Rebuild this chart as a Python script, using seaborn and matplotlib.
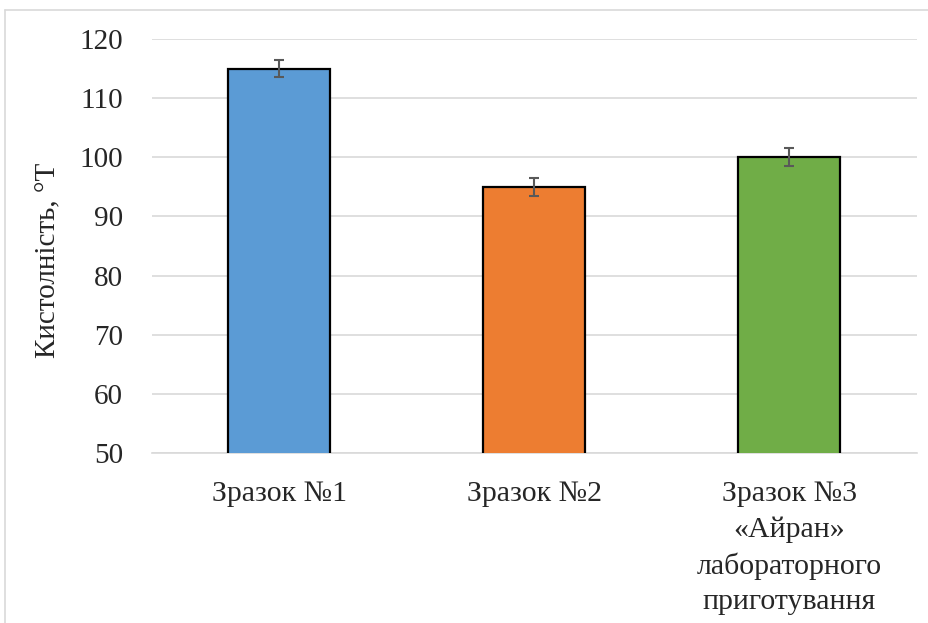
import matplotlib
matplotlib.use("Agg")
import matplotlib.pyplot as plt
import seaborn as sns
import pandas as pd
from matplotlib.lines import Line2D

categories = ["Зразок №1", "Зразок №2", "Зразок №3\n«Айран»\nлабораторного\nприготування"]
values = [115, 95, 100]
errors = [1.4, 1.5, 1.5]
colors = ["#5B9BD5", "#ED7D31", "#70AD47"]
yticks = [50, 60, 70, 80, 90, 100, 110, 120]

sns.set_style("white")
plt.rcParams["font.family"] = ["Liberation Serif", "DejaVu Serif"]

df = pd.DataFrame({"cat": categories, "val": values})

fig = plt.figure(figsize=(9.29, 6.23), dpi=100)
ax = fig.add_axes([152/929, 1-453/623, (917-152)/929, (453-39)/623])

sns.barplot(data=df, x="cat", y="val", hue="cat", palette=colors, width=0.4,
            saturation=1, edgecolor="black", linewidth=1.6, legend=False, ax=ax, zorder=3)
ax.errorbar(range(len(values)), values, yerr=errors, fmt="none",
            ecolor="#595959", elinewidth=1.5, capsize=3.5, capthick=1.5, zorder=4)

ax.set_ylim(50, 120)
ax.set_xlim(-0.5, 2.5)
ax.set_yticks(yticks)
ax.set_yticklabels([str(t) for t in yticks], fontsize=21)
ax.tick_params(axis="x", labelsize=21.5, length=0, pad=20)
ax.tick_params(axis="y", length=0, pad=21)
for lbl in ax.get_xticklabels():
    lbl.set_linespacing(1.45)
ax.set_xlabel("")
ax.set_ylabel("Кистолність, °Т", fontsize=21)
ax.yaxis.set_label_coords(-(152-61)/765, (453-260)/414)
ax.grid(axis="y", color="#d9d9d9", linewidth=1.2, zorder=0)
ax.set_axisbelow(True)
for s in ["top", "right", "left"]:
    ax.spines[s].set_visible(False)
ax.spines["bottom"].set_color("#d9d9d9")
ax.spines["bottom"].set_linewidth(1.2)

# chart border
fig.add_artist(Line2D([5/929, 5/929], [0, 1-10/623], color="#d9d9d9", lw=1.2, transform=fig.transFigure))
fig.add_artist(Line2D([5/929, 1], [1-10/623, 1-10/623], color="#d9d9d9", lw=1.2, transform=fig.transFigure))

fig.savefig("out.png", dpi=100)
